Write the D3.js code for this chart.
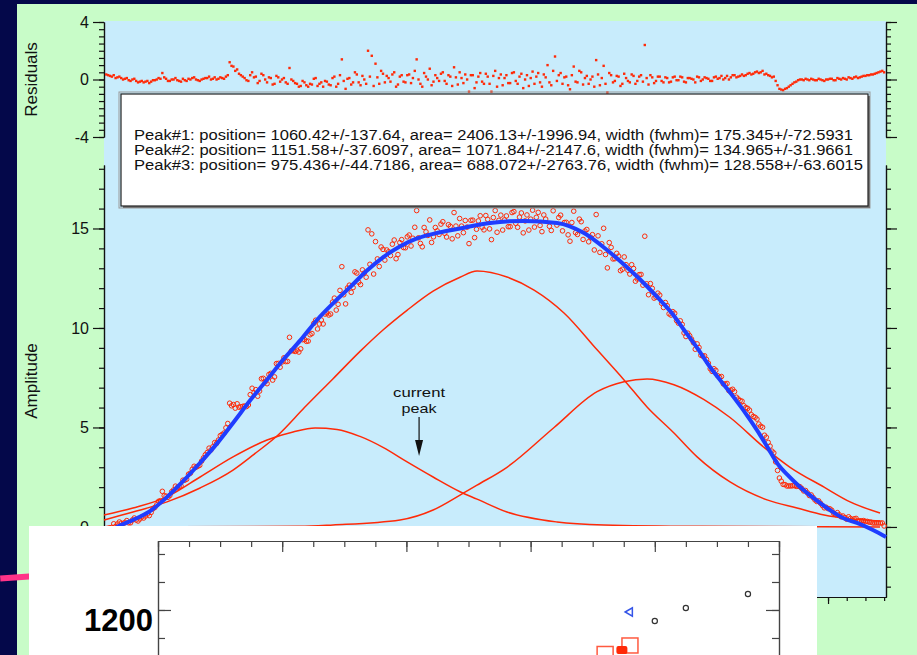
<!DOCTYPE html>
<html>
<head>
<meta charset="utf-8">
<script src="https://cdn.jsdelivr.net/npm/d3@7"></script>
<style>
  body { margin: 0; background: #04084a; }
  svg { display: block; }
  text { font-family: "Liberation Sans", Arial, Helvetica, sans-serif; }
</style>
</head>
<body>
<svg width="917" height="655"></svg>
<script>
// ---- data ----
var sampleX = [
  864,866,868,870,872,874,876,878,880,882,
  884,886,888,890,892,894,896,898,900,902,
  904,906,908,910,912,914,916,918,920,922,
  924,926,928,930,932,934,936,938,940,942,
  944,946,948,950,952,954,956,958,960,962,
  964,966,968,970,972,974,976,978,980,982,
  984,986,988,990,992,994,996,998,1000,1002,
  1004,1006,1008,1010,1012,1014,1016,1018,1020,1022,
  1024,1026,1028,1030,1032,1034,1036,1038,1040,1042,
  1044,1046,1048,1050,1052,1054,1056,1058,1060,1062,
  1064,1066,1068,1070,1072,1074,1076,1078,1080,1082,
  1084,1086,1088,1090,1092,1094,1096,1098,1100,1102,
  1104,1106,1108,1110,1112,1114,1116,1118,1120,1122,
  1124,1126,1128,1130,1132,1134,1136,1138,1140,1142,
  1144,1146,1148,1150,1152,1154,1156,1158,1160,1162,
  1164,1166,1168,1170,1172,1174,1176,1178,1180,1182,
  1184,1186,1188,1190,1192,1194,1196,1198,1200,1202,
  1204,1206,1208,1210,1212,1214,1216,1218,1220,1222,
  1224,1226,1228,1230,1232,1234,1236,1238,1240,1242,
  1244,1246,1248,1250,1252,1254,1256,1258,1260,1262,
  1264,1266,1268,1270,1272,1274,1276,1278,1280
];
var amplitude = [
  -0.08,-0.04,0.16,0.15,0.19,0.23,0.21,0.35,0.35,0.4,
  0.45,0.65,0.73,0.98,1.29,1.79,1.55,1.58,1.86,1.98,
  2.06,2.35,2.65,2.9,3.0,3.1,3.47,3.74,3.87,4.24,
  4.37,4.65,4.98,6.22,6.15,6.19,6.04,6.08,6.13,6.97,
  6.9,6.83,7.47,7.2,7.72,7.54,8.22,8.29,8.31,9.53,
  8.86,8.88,8.95,9.42,9.34,9.72,10.39,10.2,10.2,10.75,
  10.7,11.5,11.19,13.08,11.21,12.15,12.03,12.76,12.18,12.76,
  14.93,14.73,14.34,13.09,13.95,13.92,13.64,14.42,13.69,14.44,
  14.03,14.67,14.51,15.9,14.25,15.05,14.65,14.3,15.05,14.7,
  15.34,14.57,15.11,15.8,14.63,15.12,15.4,14.24,15.42,14.96,
  15.64,14.93,15.46,14.44,15.9,15.41,14.92,15.63,15.09,15.85,
  15.06,15.78,15.38,14.92,15.92,15.56,15.15,15.68,16.31,14.9,
  16.88,15.55,14.88,15.31,14.36,15.87,14.7,15.34,14.87,14.33,
  14.69,15.7,13.8,15.01,13.02,14.05,13.48,13.61,12.95,13.18,
  12.71,12.99,12.46,12.69,14.61,11.67,11.99,11.55,11.65,11.03,
  11.12,10.65,10.74,10.24,10.18,9.57,9.61,9.26,9.2,8.63,
  8.6,8.23,7.82,7.87,7.52,7.19,7.21,6.88,6.8,6.43,
  6.32,6.0,5.87,5.55,5.42,5.06,4.61,4.25,3.81,3.27,
  2.46,2.14,2.06,2.06,2.08,2.05,1.93,1.83,1.58,1.48,
  1.28,1.19,0.96,0.92,0.84,0.63,0.61,0.55,0.39,0.43,
  0.41,0.3,0.31,0.28,0.24,0.2,0.2,0.2,0.05
];
var residual = [
  0.35,0.25,0.3,0.15,0.1,0.05,-0.05,0.0,-0.1,-0.15,
  -0.2,-0.1,-0.15,-0.05,0.1,0.45,0.05,-0.1,0.0,-0.05,
  -0.15,-0.05,0.05,0.1,0.0,-0.1,0.05,0.1,0.0,0.15,
  0.05,0.1,0.2,1.2,0.9,0.7,0.3,0.1,-0.1,0.5,
  0.2,-0.1,0.3,-0.2,0.1,-0.3,0.15,0.0,-0.2,0.8,
  -0.1,-0.3,-0.45,-0.2,-0.5,-0.35,0.1,-0.3,-0.5,-0.15,
  -0.4,0.2,-0.3,1.4,-0.65,0.1,-0.2,0.35,-0.4,0.0,
  2.0,1.65,1.1,-0.3,0.4,0.25,-0.15,0.5,-0.35,0.3,
  -0.2,0.35,0.1,1.4,-0.3,0.45,0.0,-0.4,0.3,-0.1,
  0.5,-0.3,0.2,0.85,-0.35,0.1,0.35,-0.85,0.3,-0.2,
  0.45,-0.3,0.2,-0.85,0.6,0.1,-0.4,0.3,-0.25,0.5,
  -0.3,0.4,0.0,-0.45,0.55,0.2,-0.2,0.35,1.0,-0.4,
  1.6,0.3,-0.3,0.2,-0.68,0.9,-0.2,0.5,0.1,-0.3,
  0.2,1.35,-0.4,0.95,-0.9,0.3,-0.1,0.2,-0.3,0.1,
  -0.2,0.25,-0.1,0.3,2.4,-0.35,0.15,-0.1,0.2,-0.2,
  0.1,-0.15,0.2,-0.05,0.15,-0.2,0.1,0.0,0.2,-0.1,
  0.15,0.05,-0.1,0.2,0.1,0.0,0.25,0.15,0.3,0.2,
  0.35,0.3,0.45,0.4,0.55,0.5,0.35,0.3,0.15,-0.1,
  -0.65,-0.75,-0.6,-0.4,-0.2,-0.05,0.0,0.05,-0.05,0.0,
  -0.05,0.0,-0.1,0.0,0.05,-0.05,0.05,0.1,0.0,0.1,
  0.15,0.1,0.2,0.25,0.3,0.35,0.45,0.55,0.5
];
// in-between samples
var sampleXOdd = [
  865,867,869,871,873,875,877,879,881,883,
  885,887,889,891,893,895,897,899,901,903,
  905,907,909,911,913,915,917,919,921,923,
  925,927,929,931,933,935,937,939,941,943,
  945,947,949,951,953,955,957,959,961,963,
  965,967,969,971,973,975,977,979,981,983,
  985,987,989,991,993,995,997,999,1001,1003,
  1005,1007,1009,1011,1013,1015,1017,1019,1021,1023,
  1025,1027,1029,1031,1033,1035,1037,1039,1041,1043,
  1045,1047,1049,1051,1053,1055,1057,1059,1061,1063,
  1065,1067,1069,1071,1073,1075,1077,1079,1081,1083,
  1085,1087,1089,1091,1093,1095,1097,1099,1101,1103,
  1105,1107,1109,1111,1113,1115,1117,1119,1121,1123,
  1125,1127,1129,1131,1133,1135,1137,1139,1141,1143,
  1145,1147,1149,1151,1153,1155,1157,1159,1161,1163,
  1165,1167,1169,1171,1173,1175,1177,1179,1181,1183,
  1185,1187,1189,1191,1193,1195,1197,1199,1201,1203,
  1205,1207,1209,1211,1213,1215,1217,1219,1221,1223,
  1225,1227,1229,1231,1233,1235,1237,1239,1241,1243,
  1245,1247,1249,1251,1253,1255,1257,1259,1261,1263,
  1265,1267,1269,1271,1273,1275,1277,1279
];
var amplitudeOdd = [
  -0.06,-0.02,0.03,0.25,0.14,0.32,0.21,0.45,0.3,0.5,
  0.55,0.57,0.91,1.11,1.32,1.57,1.49,1.77,2.05,2.02,
  2.35,2.4,2.7,3.05,3.05,3.31,3.63,3.96,4.03,4.2,
  4.59,4.72,5.2,6.09,5.97,6.02,6.06,6.05,6.65,6.74,
  6.57,7.45,7.29,7.66,7.38,8.21,8.03,8.5,8.32,8.85,
  8.82,8.79,9.41,9.33,9.66,10.23,9.95,10.4,10.7,10.65,
  11.3,10.9,11.89,11.67,12.01,11.79,12.82,12.3,12.92,12.55,
  13.2,12.71,13.47,14.07,13.41,13.83,14.21,13.48,14.29,14.04,
  14.58,14.12,15.06,14.53,14.08,14.83,15.43,14.58,14.88,15.22,
  14.76,15.19,14.48,15.12,15.5,14.79,15.07,15.41,14.54,15.38,
  15.06,15.65,14.98,15.55,14.81,15.67,15.43,15.09,15.8,15.26,
  15.57,14.78,15.68,15.47,15.07,15.81,14.84,15.47,15.11,15.89,
  15.17,15.67,15.3,14.68,15.3,14.79,15.47,14.45,14.95,14.56,
  13.92,14.63,14.23,13.69,14.29,13.47,13.75,12.88,13.57,12.9,
  13.18,12.35,12.68,12.15,12.22,12.23,11.5,11.75,11.24,11.28,
  10.71,10.82,10.37,10.36,9.75,9.74,9.44,8.93,9.02,8.59,
  8.42,7.95,7.95,7.6,7.56,7.18,6.85,6.92,6.52,6.35,
  6.09,5.96,5.64,5.51,5.17,5.01,4.51,4.06,3.72,2.84,
  2.3,2.13,2.06,2.07,2.04,2.02,1.81,1.71,1.61,1.36,
  1.31,1.08,0.99,0.91,0.69,0.72,0.51,0.47,0.51,0.35,
  0.43,0.31,0.32,0.28,0.24,0.2,0.2,0.2
];
var residualOdd = [
  0.3,0.2,0.1,0.2,0.0,0.1,-0.1,0.05,-0.2,-0.1,
  -0.15,-0.25,-0.05,0.0,0.05,0.15,-0.1,0.0,0.1,-0.1,
  0.05,-0.1,0.0,0.15,-0.05,0.0,0.1,0.2,0.05,0.0,
  0.15,0.05,0.3,0.95,0.6,0.4,0.2,-0.05,0.3,0.15,
  -0.25,0.4,0.0,0.15,-0.35,0.25,-0.15,0.1,-0.3,0.0,
  -0.25,-0.5,-0.1,-0.4,-0.3,0.05,-0.45,-0.2,-0.1,-0.35,
  0.1,-0.5,0.3,-0.1,0.05,-0.35,0.5,-0.2,0.25,-0.3,
  0.2,-0.45,0.15,0.6,-0.2,0.1,0.35,-0.5,0.2,-0.15,
  0.3,-0.25,0.6,0.0,-0.5,0.2,0.75,-0.15,0.1,0.4,
  -0.1,0.3,-0.45,0.15,0.5,-0.25,0.0,0.3,-0.6,0.2,
  -0.15,0.4,-0.3,0.25,-0.5,0.35,0.1,-0.25,0.45,-0.1,
  0.2,-0.6,0.3,0.1,-0.3,0.45,-0.5,0.15,-0.2,0.6,
  -0.1,0.45,0.15,-0.4,0.3,-0.15,0.6,-0.35,0.25,0.0,
  -0.5,0.35,0.1,-0.3,0.45,-0.2,0.25,-0.45,0.4,-0.1,
  0.35,-0.3,0.2,-0.15,0.1,0.3,-0.25,0.2,-0.1,0.15,
  -0.2,0.15,-0.05,0.2,-0.15,0.1,0.05,-0.2,0.15,0.0,
  0.1,-0.1,0.15,0.05,0.25,0.1,0.0,0.3,0.15,0.25,
  0.25,0.4,0.35,0.5,0.45,0.6,0.4,0.25,0.2,-0.4,
  -0.7,-0.65,-0.5,-0.3,-0.15,0.0,-0.05,0.0,0.05,-0.05,
  0.05,-0.05,0.0,0.05,-0.05,0.1,0.0,0.05,0.15,0.05,
  0.2,0.15,0.25,0.3,0.35,0.4,0.5,0.6
];

// fitted sum (blue)
var fitCurve = [
  [862.8,-0.5],[869.8,0.0],[878.3,0.35],[887.4,0.8],[896.5,1.5],[905.1,2.3],[914,3.2],
  [923.3,4.2],[932,5.25],[940.9,6.35],[950,7.4],[958.6,8.4],[968,9.4],[976.7,10.4],
  [986,11.3],[994.4,12.05],[1003,12.85],[1012,13.55],[1021,14.1],[1030.2,14.5],[1042,14.8],
  [1053.2,15.0],[1069.3,15.28],[1087.4,15.38],[1105.1,15.28],[1119.5,14.77],[1131.8,13.92],
  [1144.1,12.91],[1151,12.3],[1158.6,11.56],[1166,10.8],[1173,9.9],[1180,9.0],[1186.9,8.04],
  [1193,7.3],[1199.7,6.5],[1206,5.7],[1212,4.87],[1218,3.95],[1222.7,3.22],[1229,2.55],
  [1235,2.01],[1243,1.4],[1251.1,0.85],[1258,0.45],[1265.5,0.2],[1274,-0.15],[1281,-0.5]
];
// individual peaks (red)
var peak1Curve = [
  [862.8,0.35],[878.3,0.75],[896.5,1.26],[914.2,1.96],[931.8,2.86],[943,3.65],[955.9,4.62],
  [970,6.0],[985.3,7.45],[1000,8.85],[1012,9.9],[1025,10.9],[1038.8,11.85],[1053.2,12.55],
  [1062.3,12.86],[1078.3,12.56],[1092.8,11.9],[1108.8,10.75],[1126.5,8.9],[1140.9,7.39],
  [1153.2,6.03],[1167.6,4.72],[1180,3.52],[1197.6,2.26],[1217.4,1.36],[1233.4,0.95],
  [1247.9,0.6],[1277.8,0.3]
];
var peak2Curve = [
  [862.8,0.0],[967.6,0.03],[985.3,0.1],[1021.1,0.35],[1038.8,0.85],[1053.2,1.6],[1062.3,2.1],
  [1078.3,3.0],[1103.5,5.0],[1126.5,6.8],[1140.9,7.3],[1153.2,7.44],[1167.6,7.15],
  [1183.7,6.4],[1197.6,5.5],[1215.8,4.0],[1229.7,3.0],[1247.9,2.0],[1261.8,1.26],[1277.8,0.7]
];
var peak3Curve = [
  [862.8,0.6],[878.3,0.95],[896.5,1.51],[914.2,2.51],[931.8,3.52],[950,4.37],[963.9,4.77],
  [975.7,4.97],[987.4,4.9],[999.7,4.55],[1012,4.0],[1024.9,3.27],[1038.8,2.51],
  [1053.2,1.77],[1062.3,1.4],[1078.3,0.75],[1105.1,0.25],[1130.2,0.1],[1181.6,0.03],[1277.8,0.0]
];

var peakLines = [
  "Peak#1: position= 1060.42+/-137.64, area= 2406.13+/-1996.94, width (fwhm)= 175.345+/-72.5931",
  "Peak#2: position= 1151.58+/-37.6097, area= 1071.84+/-2147.6, width (fwhm)= 134.965+/-31.9661",
  "Peak#3: position= 975.436+/-44.7186, area= 688.072+/-2763.76, width (fwhm)= 128.558+/-63.6015"
];
var peakLineWidths = [719, 719, 729];
var annotation = { x: 1031.3, lines: ["current", "peak"], widths: [52, 35], textY: [6.53, 5.75],
  arrowFrom: 5.53, arrowHead: 4.37, arrowTip: 3.57 };

var resTicks = [-4, 0, 4];
var ampTicks = [0, 5, 10, 15];
var xMajorTicks = [900, 950, 1000, 1050, 1100, 1150, 1200, 1250];

// overlapping lower graph
var panelCircles = [[950, 1214.3], [850, 1201.8], [800, 1190.2]];
var panelTriangles = [[760, 1198.2]];
var panelOpenSquares = [[760, 1168.3], [720, 1160.7]];
var panelFilledSquares = [[747, 1164.3]];
var panelYLabels = [1200];
var pinkLine = [[-254, 1228.1], [-150, 1232.1]];

// ---- scales ----
var x = d3.scaleLinear().domain([862.8, 1281]).range([104, 886]);
var yAmp = d3.scaleLinear().domain([-3.52, 18.19]).range([597, 165]);
var yRes = d3.scaleLinear().domain([-4, 4]).range([137, 22]);
var px = d3.scaleLinear().domain([0, 1000]).range([158, 779]);
var py = d3.scaleLinear().domain([1159.8, 1261.6]).range([655, 541]);

var RED = "#ff2a08", BLUE = "#1f3dff", INK = "#111";

var svg = d3.select("svg");
svg.append("rect").attr("width", 917).attr("height", 655).attr("fill", "#04084a");
svg.append("rect").attr("x", 17).attr("y", 4).attr("width", 900).attr("height", 651).attr("fill", "#c8fcc8");
svg.append("rect").attr("x", x.range()[0]).attr("y", 21)
  .attr("width", x.range()[1] - x.range()[0]).attr("height", yAmp.range()[0] - 21)
  .attr("fill", "#c8ecfc");

// ---- axes ----
function axisPair(tr, make, scale, major, minor, bigLen, smallLen, fmt, color) {
  var g = svg.append("g").attr("transform", tr);
  g.append("g").call(make(scale).tickValues(minor).tickSize(smallLen).tickSizeOuter(0).tickFormat(""));
  g.append("g").call(make(scale).tickValues(major).tickSize(bigLen).tickSizeOuter(0).tickPadding(4)
    .tickFormat(fmt || function() { return ""; }));
  g.selectAll("path, line").attr("stroke", color || INK).attr("stroke-width", 1.2);
  g.selectAll("text").attr("font-size", 16).attr("fill", INK)
    .attr("font-family", '"Liberation Sans", Arial, sans-serif');
  return g;
}
var lbl = function(d) { return String(d); };
axisPair("translate(104,0)", d3.axisLeft, yRes, resTicks, d3.range(-4, 4.01, 0.5), 11, 5, lbl);
axisPair("translate(886,0)", d3.axisRight, yRes, resTicks, d3.range(-4, 4.01, 0.5), 11, 5);
axisPair("translate(104,0)", d3.axisLeft, yAmp, ampTicks, d3.range(-3, 18.5, 1), 11, 5, lbl);
axisPair("translate(886,0)", d3.axisRight, yAmp, ampTicks, d3.range(-3, 18.5, 1), 11, 5);
axisPair("translate(0,597)", d3.axisBottom, x, xMajorTicks, d3.range(870, 1281, 10), 7, 4);

svg.append("text").attr("transform", "translate(37," + yRes(0) + ") rotate(-90)")
  .attr("text-anchor", "middle").attr("font-size", 17).attr("fill", INK).text("Residuals");
svg.append("text").attr("transform", "translate(37," + ((yAmp.range()[0] + yAmp.range()[1]) / 2) + ") rotate(-90)")
  .attr("text-anchor", "middle").attr("font-size", 17).attr("fill", INK).text("Amplitude");

// ---- curves ----
var line = d3.line().curve(d3.curveMonotoneX)
  .x(function(d) { return x(d[0]); }).y(function(d) { return yAmp(d[1]); });
[peak1Curve, peak2Curve, peak3Curve].forEach(function(c) {
  svg.append("path").datum(c).attr("d", line).attr("fill", "none")
    .attr("stroke", RED).attr("stroke-width", 1.5);
});

var pts = sampleX.map(function(v, i) { return [v, amplitude[i], residual[i]]; })
  .concat(sampleXOdd.map(function(v, i) { return [v, amplitudeOdd[i], residualOdd[i]]; }));

svg.append("g").selectAll("circle").data(pts).join("circle")
  .attr("cx", function(d) { return x(d[0]); })
  .attr("cy", function(d) { return yAmp(d[1]); })
  .attr("r", 2.3).attr("fill", "none").attr("stroke", RED).attr("stroke-width", 1);

svg.append("path").datum(fitCurve)
  .attr("d", line).attr("fill", "none")
  .attr("stroke", BLUE).attr("stroke-width", 4);

svg.append("g").selectAll("rect").data(pts).join("rect")
  .attr("x", function(d) { return x(d[0]) - 1.2; })
  .attr("y", function(d) { return yRes(d[2]) - 1.2; })
  .attr("width", 2.4).attr("height", 2.4).attr("fill", RED);

// annotation
var ax = x(annotation.x);
svg.append("g").selectAll("text").data(annotation.lines).join("text")
  .attr("x", function(d, i) { return ax - annotation.widths[i] / 2; })
  .attr("y", function(d, i) { return yAmp(annotation.textY[i]); })
  .attr("textLength", function(d, i) { return annotation.widths[i]; })
  .attr("lengthAdjust", "spacingAndGlyphs")
  .attr("font-size", 13.5).attr("fill", INK).text(function(d) { return d; });
svg.append("line").attr("x1", ax).attr("x2", ax)
  .attr("y1", yAmp(annotation.arrowFrom)).attr("y2", yAmp(annotation.arrowHead))
  .attr("stroke", INK).attr("stroke-width", 1.2);
svg.append("path")
  .attr("d", "M" + (ax - 4) + "," + yAmp(annotation.arrowHead) + "L" + (ax + 4) + "," + yAmp(annotation.arrowHead) +
    "L" + ax + "," + yAmp(annotation.arrowTip) + "Z")
  .attr("fill", INK);

// legend box
var box = svg.append("g");
box.append("rect").attr("x", 119).attr("y", 92).attr("width", 751).attr("height", 116)
  .attr("fill", "none").attr("stroke", "#999").attr("stroke-width", 1);
box.append("rect").attr("x", 123).attr("y", 96).attr("width", 747).attr("height", 112).attr("fill", "#777");
box.append("rect").attr("x", 121).attr("y", 94).attr("width", 747).attr("height", 112)
  .attr("fill", "#fff").attr("stroke", "#222").attr("stroke-width", 1.2);
box.selectAll("text").data(peakLines).join("text")
  .attr("x", 134).attr("y", function(d, i) { return 140 + i * 15; })
  .attr("textLength", function(d, i) { return peakLineWidths[i]; })
  .attr("lengthAdjust", "spacingAndGlyphs")
  .attr("font-size", 13.8).attr("fill", INK).text(function(d) { return d; });

// ---- lower overlapping graph ----
var pl = d3.line().x(function(d) { return px(d[0]); }).y(function(d) { return py(d[1]); });
svg.append("path").datum(pinkLine).attr("d", pl).attr("stroke", "#ff3388").attr("stroke-width", 6).attr("fill", "none");

svg.append("rect").attr("x", 29).attr("y", 526).attr("width", 788).attr("height", 129).attr("fill", "#fff");
var PC = "#444";
axisPair("translate(0,541)", d3.axisBottom, px, d3.range(0, 1001, 200), d3.range(0, 1001, 50), 11, 6, null, PC);
axisPair("translate(158,0)", d3.axisRight, py, panelYLabels, d3.range(1175, 1260, 25), 13, 7, null, PC);
axisPair("translate(779,0)", d3.axisLeft, py, panelYLabels, d3.range(1175, 1260, 25), 13, 7, null, PC);

svg.append("g").selectAll("text").data(panelYLabels).join("text")
  .attr("x", 153).attr("y", function(d) { return py(d) + 21; })
  .attr("text-anchor", "end").attr("font-family", '"Liberation Serif", "Times New Roman", serif')
  .attr("font-weight", "bold").attr("font-size", 31).attr("fill", "#000").text(function(d) { return d; });

svg.append("g").selectAll("circle").data(panelCircles).join("circle")
  .attr("cx", function(d) { return px(d[0]); }).attr("cy", function(d) { return py(d[1]); })
  .attr("r", 2.6).attr("fill", "none").attr("stroke", "#333").attr("stroke-width", 1.2);
svg.append("g").selectAll("path").data(panelTriangles).join("path")
  .attr("d", d3.symbol(d3.symbolTriangle, 30))
  .attr("transform", function(d) { return "translate(" + px(d[0]) + "," + py(d[1]) + ") rotate(-90)"; })
  .attr("fill", "none").attr("stroke", "#3555e8").attr("stroke-width", 1.5);
svg.append("g").selectAll("rect").data(panelOpenSquares).join("rect")
  .attr("x", function(d) { return px(d[0]) - 8; }).attr("y", function(d) { return py(d[1]) - 7.5; })
  .attr("width", 16).attr("height", 15).attr("fill", "none").attr("stroke", "#ff5a40").attr("stroke-width", 1.5);
svg.append("g").selectAll("rect").data(panelFilledSquares).join("rect")
  .attr("x", function(d) { return px(d[0]) - 5.5; }).attr("y", function(d) { return py(d[1]) - 4; })
  .attr("width", 11).attr("height", 8).attr("rx", 2).attr("fill", RED);
</script>
</body>
</html>
